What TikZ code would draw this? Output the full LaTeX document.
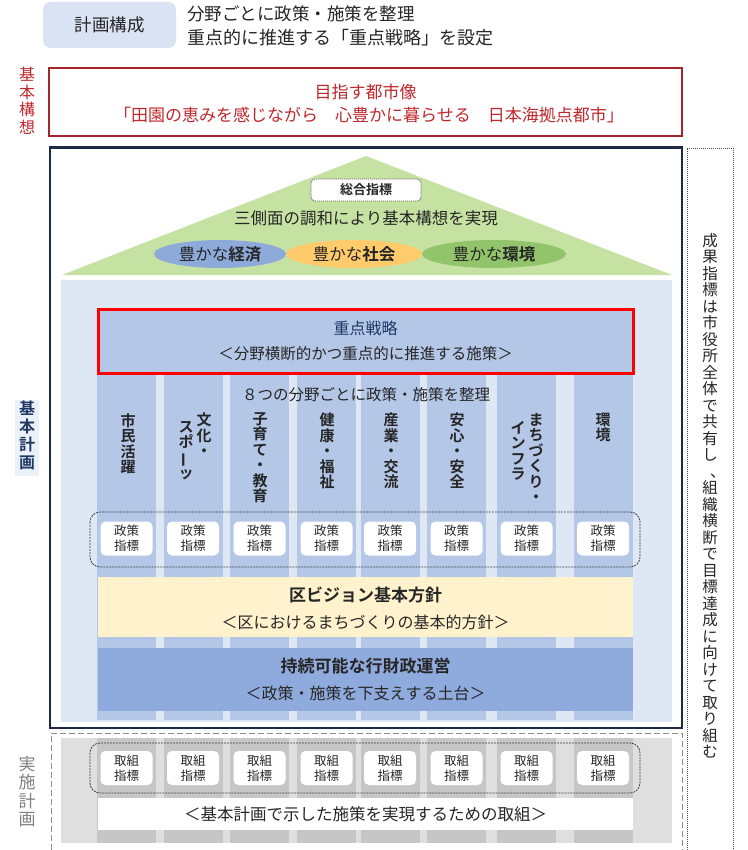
\documentclass[tikz,border=0pt]{standalone}
\usepackage{fontspec}
\setmainfont{Noto Sans CJK JP}[BoldFont={Noto Sans CJK JP Bold}]
\usepackage{graphicx}
\usetikzlibrary{shapes.geometric}
\definecolor{hdrbg}{HTML}{DAE3F3}
\definecolor{redframe}{HTML}{A5262A}
\definecolor{redtxt}{HTML}{C0282D}
\definecolor{navy}{HTML}{1C2A48}
\definecolor{navytxt}{HTML}{1F3864}
\definecolor{panel}{HTML}{DEE8F4}
\definecolor{colblue}{HTML}{B4C7E7}
\definecolor{roof}{HTML}{C6E2A3}
\definecolor{ecoblue}{HTML}{8EAADB}
\definecolor{socorange}{HTML}{FFCB6B}
\definecolor{envgreen}{HTML}{92C46B}
\definecolor{cream}{HTML}{FFF2CC}
\definecolor{bandblue}{HTML}{8FAADC}
\definecolor{graypanel}{HTML}{DFDFDF}
\definecolor{graycol}{HTML}{C6C6C6}
\definecolor{txtdark}{HTML}{262626}
\newcommand\fsz[2]{\fontsize{#1}{#2}\selectfont}
\newcommand\vbar{\rotatebox[origin=c]{90}{ー}}
\newcommand\vcomma{\makebox[1em][l]{\hspace{0.5em}、}}
\begin{document}
\begin{tikzpicture}[x=1pt,y=-1pt,
  txt/.style={inner sep=0pt, text=txtdark},
  vlab/.style={inner sep=0pt, anchor=north, align=center, text=txtdark, font=\fsz{15}{15.5}\bfseries},
  sidelab/.style={inner sep=0pt, anchor=north, align=center},
  pbox/.style={fill=white, rounded corners=5pt, minimum width=52pt, minimum height=34pt, inner sep=0pt, align=center, text=txtdark, font=\fsz{12.5}{15}},
  grp/.style={draw=black!75, line width=0.8pt, dash pattern=on 2pt off 1pt, rounded corners=10pt},
  band/.style={minimum width=535pt, inner sep=0pt},
  oval/.style={ellipse, minimum height=28pt, inner sep=0pt, text=txtdark, font=\fsz{16.5}{18}}
]
\useasboundingbox (0,0) rectangle (747,850);
\fill[white] (0,0) rectangle (747,850);

% header
\node[fill=hdrbg, rounded corners=8pt, minimum width=133pt, minimum height=46pt, text=txtdark, font=\fsz{17.5}{20}] (hdr) at (109.5,25) {計画構成};
\node[txt, anchor=west, font=\fsz{17.5}{20}] (hd1) at (187,14) {分野ごとに政策・施策を整理};
\node[txt, anchor=west, font=\fsz{18}{20}] (hd2) at (187,38) {重点的に推進する「重点戦略」を設定};

% basic concept
\node[sidelab, text=redtxt, font=\fsz{16}{17.5}] (lblA) at (27,67) {基\\本\\構\\想};
\node[draw=redframe, line width=2pt, minimum width=633pt, minimum height=68pt] (vision) at (365.5,102) {};
\node[txt, text=redtxt, font=\fsz{17}{18}] (vis1) at (365.5,92) {目指す都市像};
\node[txt, text=redtxt, font=\fsz{17}{18}] (vis2) at (369,115) {「田園の恵みを感じながら　心豊かに暮らせる　日本海拠点都市」};

% basic plan panel
\fill[panel] (61,280) rectangle (672,722);
\fill[roof] (62,275) -- (366,156) -- (672,275) -- cycle;
\node[draw=black!60, line width=0.8pt, dash pattern=on 1.2pt off 0.8pt, fill=white, rounded corners=4pt, minimum width=110pt, minimum height=22pt, inner sep=0pt, text=txtdark, font=\fsz{13}{15}\bfseries] (sogo) at (366,190) {総合指標};
\node[txt, font=\fsz{16.5}{18}] (sanso) at (366,218) {三側面の調和により基本構想を実現};
\node[oval, fill=ecoblue, minimum width=132pt] (eco) at (220,254) {豊かな\textbf{経済}};
\node[oval, fill=socorange, minimum width=136pt] (soc) at (354,254) {豊かな\textbf{社会}};
\node[oval, fill=envgreen, minimum width=144pt] (env) at (494,254) {豊かな\textbf{環境}};

% columns and policy indicators
\foreach \i/\x in {1/126.5,2/193,3/259.5,4/326.5,5/390,6/456.5,7/526.5,8/603} {
  \fill[colblue] (\x-29.5,373) rectangle (\x+29.5,720);
}
\node[draw=red, line width=3pt, fill=colblue, minimum width=535pt, minimum height=64pt] (jss) at (365.5,341) {};
\node[txt, text=navytxt, font=\fsz{16}{18}] (jss1) at (365.5,328) {重点戦略};
\node[txt, font=\fsz{15.5}{18}] (jss2) at (365.5,354) {＜分野横断的かつ重点的に推進する施策＞};
\node[txt, font=\fsz{15.5}{18}] (eight) at (366,395) {８つの分野ごとに政策・施策を整理};

\node[vlab] (l1) at (128,413) {市\\民\\活\\躍};
\node[vlab] (l2a) at (204,413) {文\\化\\・};
\node[vlab] (l2b) at (186,421) {ス\\ポ\\\vbar\\ッ};
\node[vlab] (l3) at (260,412) {子\\育\\て\\・\\教\\育};
\node[vlab] (l4) at (327,413) {健\\康\\・\\福\\祉};
\node[vlab] (l5) at (391,413) {産\\業\\・\\交\\流};
\node[vlab] (l6) at (457,413) {安\\心\\・\\安\\全};
\node[vlab] (l7a) at (536,413) {ま\\ち\\づ\\く\\り\\・};
\node[vlab] (l7b) at (518,421) {イ\\ン\\フ\\ラ};
\node[vlab] (l8) at (603,413) {環\\境};

\draw[grp] (90,512) rectangle (640,567);
\foreach \i/\x in {1/126.5,2/193,3/259.5,4/326.5,5/390,6/456.5,7/526.5,8/603} {
  \node[pbox] (p\i) at (\x,538.5) {政策\\指標};
}

% bands
\node[band, fill=cream, minimum height=60pt] (kuv) at (365.5,607) {};
\node[txt, font=\fsz{17}{19}\bfseries] (kuv1) at (365.5,595) {区ビジョン基本方針};
\node[txt, font=\fsz{16}{18}] (kuv2) at (365.5,622) {＜区におけるまちづくりの基本的方針＞};
\node[band, fill=bandblue, minimum height=63pt] (jz) at (365.5,679.5) {};
\node[txt, font=\fsz{17}{19}\bfseries] (jz1) at (365.5,666) {持続可能な行財政運営};
\node[txt, font=\fsz{16}{18}] (jz2) at (365.5,693) {＜政策・施策を下支えする土台＞};

\node[fill=panel!60, minimum width=24pt, minimum height=76pt, inner sep=0pt] (lblBbg) at (27,438) {};
\node[sidelab, text=navytxt, font=\fsz{16}{17.8}\bfseries] (lblB) at (27,401) {基\\本\\計\\画};

\draw[navy, line width=2.5pt] (50,147.5) rectangle (682,728);

% implementation plan
\fill[graypanel] (61,738) rectangle (672,843);
\foreach \i/\x in {1/126.5,2/193,3/259.5,4/326.5,5/390,6/456.5,7/526.5,8/603} {
  \fill[graycol] (\x-29.5,738) rectangle (\x+29.5,843);
}
\draw[grp] (90,743) rectangle (640,793);
\foreach \i/\x in {1/126.5,2/193,3/259.5,4/326.5,5/390,6/456.5,7/526.5,8/603} {
  \node[pbox] (t\i) at (\x,768) {取組\\指標};
}
\node[band, fill=white, minimum height=32pt, text=txtdark, font=\fsz{16.5}{18}] (impl) at (365.5,814) {＜基本計画で示した施策を実現するための取組＞};
\draw[black!45, line width=1pt, dash pattern=on 6pt off 3pt] (51,850) -- (51,733) -- (682,733) -- (682,850);
\node[sidelab, text=black!50, font=\fsz{17}{18.5}] (lblC) at (27,756) {実\\施\\計\\画};

% right side note
\draw[black!70, line width=0.8pt, dash pattern=on 1pt off 1pt] (687,850) -- (687,148) -- (733,148) -- (733,850);
\node[sidelab, text=txtdark, font=\fsz{15.5}{16.5}] (note) at (710,233) {成\\果\\指\\標\\は\\市\\役\\所\\全\\体\\で\\共\\有\\し\\\vcomma\\組\\織\\横\\断\\で\\目\\標\\達\\成\\に\\向\\け\\て\\取\\り\\組\\む};
\end{tikzpicture}
\end{document}
